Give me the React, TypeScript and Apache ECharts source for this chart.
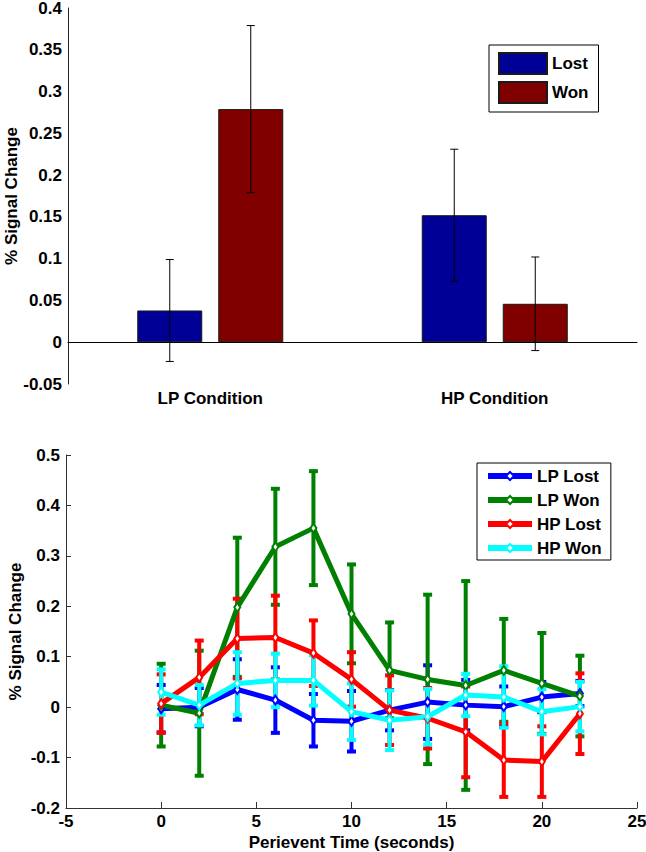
import React, { useEffect, useRef } from "react";
import * as echarts from "echarts";

// ---- Top chart data ----
const conditions = ["LP Condition", "HP Condition"];
const lostMeans = [0.038, 0.152];
const lostErrs = [0.061, 0.079];
const wonMeans = [0.279, 0.046];
const wonErrs = [0.1, 0.056];

// ---- Bottom chart data ----
const times = [0, 2, 4, 6, 8, 10, 12, 14, 16, 18, 20, 22];
const lpLost = [-0.003, 0.0, 0.035, 0.014, -0.026, -0.028, -0.006, 0.01, 0.004, 0.001, 0.02, 0.027];
const lpLostErr = [0.047, 0.038, 0.06, 0.065, 0.052, 0.06, 0.04, 0.073, 0.05, 0.04, 0.03, 0.025];
const lpWon = [0.004, -0.012, 0.198, 0.318, 0.355, 0.185, 0.073, 0.055, 0.043, 0.073, 0.047, 0.022];
const lpWonErr = [0.082, 0.124, 0.138, 0.115, 0.113, 0.098, 0.095, 0.168, 0.207, 0.102, 0.1, 0.08];
const hpLost = [0.007, 0.059, 0.136, 0.138, 0.107, 0.055, -0.006, -0.022, -0.049, -0.105, -0.108, -0.013];
const hpLostErr = [0.058, 0.073, 0.079, 0.083, 0.065, 0.054, 0.069, 0.06, 0.09, 0.073, 0.07, 0.08];
const hpWon = [0.03, 0.004, 0.047, 0.053, 0.053, -0.009, -0.026, -0.019, 0.024, 0.02, -0.009, 0.001];
const hpWonErr = [0.045, 0.04, 0.062, 0.053, 0.05, 0.056, 0.059, 0.055, 0.042, 0.061, 0.045, 0.049];

const FONT = "'Liberation Sans', Arial, sans-serif";
const BAR_W = 65;
const BAR_GAP = 16;

const lineSeriesDefs = [
  { name: "LP Lost", color: "#0000ff", vals: lpLost, errs: lpLostErr },
  { name: "LP Won", color: "#008000", vals: lpWon, errs: lpWonErr },
  { name: "HP Lost", color: "#ff0000", vals: hpLost, errs: hpLostErr },
  { name: "HP Won", color: "#00ffff", vals: hpWon, errs: hpWonErr },
];

function fmt(v: number) {
  return String(+Number(v).toFixed(3));
}

export default function App() {
  const ref = useRef<HTMLDivElement>(null);
  useEffect(() => {
    document.body.style.margin = "0";
    if (!ref.current) return;
    const chart = echarts.init(ref.current, undefined, { renderer: "svg" });

    const labelStyle = { color: "#000", fontFamily: FONT, fontWeight: "bold" as const, fontSize: 17 };

    const barErr = (offset: number, means: number[], errs: number[], name: string) => ({
      type: "custom",
      name,
      xAxisIndex: 0,
      yAxisIndex: 0,
      z: 5,
      silent: true,
      encode: { x: 0, y: 1 },
      data: means.map((m, i) => [i, m, errs[i]]),
      renderItem: (params: any, api: any) => {
        const x = api.value(0);
        const y = api.value(1);
        const e = api.value(2);
        const t = api.coord([x, y + e]);
        const b = api.coord([x, y - e]);
        const cx = t[0] + offset;
        const cw = 8;
        const st = { stroke: "#000", lineWidth: 1 };
        return {
          type: "group",
          children: [
            { type: "line", shape: { x1: cx, y1: t[1], x2: cx, y2: b[1] }, style: st },
            { type: "line", shape: { x1: cx - cw / 2, y1: t[1], x2: cx + cw / 2, y2: t[1] }, style: st },
            { type: "line", shape: { x1: cx - cw / 2, y1: b[1], x2: cx + cw / 2, y2: b[1] }, style: st },
          ],
        };
      },
    });

    const lineErr = (d: any) => ({
      type: "custom",
      name: d.name + " err",
      xAxisIndex: 1,
      yAxisIndex: 1,
      silent: true,
      encode: { x: 0, y: 1 },
      data: times.map((t, i) => [t, d.vals[i], d.errs[i]]),
      renderItem: (params: any, api: any) => {
        const x = api.value(0);
        const y = api.value(1);
        const e = api.value(2);
        const t = api.coord([x, y + e]);
        const b = api.coord([x, y - e]);
        const cw = 9;
        const ch = 4;
        return {
          type: "group",
          children: [
            { type: "line", shape: { x1: t[0], y1: t[1], x2: b[0], y2: b[1] }, style: { stroke: d.color, lineWidth: 4 } },
            { type: "rect", shape: { x: t[0] - cw / 2, y: t[1] - ch / 2, width: cw, height: ch }, style: { fill: d.color } },
            { type: "rect", shape: { x: b[0] - cw / 2, y: b[1] - ch / 2, width: cw, height: ch }, style: { fill: d.color } },
          ],
        };
      },
    });

    const series: any[] = [
      {
        type: "bar",
        name: "Lost",
        xAxisIndex: 0,
        yAxisIndex: 0,
        data: lostMeans,
        barWidth: BAR_W,
        barGap: (BAR_GAP / BAR_W) * 100 + "%",
        itemStyle: { color: "#000096", borderColor: "#1a1a1a", borderWidth: 1 },
        markLine: {
          silent: true,
          symbol: "none",
          label: { show: false },
          lineStyle: { color: "#000", width: 1, type: "solid" },
          data: [{ yAxis: 0 }],
        },
      },
      {
        type: "bar",
        name: "Won",
        xAxisIndex: 0,
        yAxisIndex: 0,
        data: wonMeans,
        barWidth: BAR_W,
        itemStyle: { color: "#800000", borderColor: "#1a1a1a", borderWidth: 1 },
      },
      barErr(-(BAR_W + BAR_GAP) / 2, lostMeans, lostErrs, "Lost err"),
      barErr((BAR_W + BAR_GAP) / 2, wonMeans, wonErrs, "Won err"),
    ];

    lineSeriesDefs.forEach((d) => {
      series.push(lineErr(d));
      series.push({
        type: "line",
        name: d.name,
        xAxisIndex: 1,
        yAxisIndex: 1,
        data: times.map((t, i) => [t, d.vals[i]]),
        symbol: "emptyDiamond",
        symbolSize: [6, 9],
        itemStyle: { color: d.color, borderWidth: 1 },
        lineStyle: { color: d.color, width: 5 },
      });
    });

    chart.setOption({
      animation: false,
      backgroundColor: "#fff",
      grid: [
        { left: 68, top: 8, width: 569, height: 376, outerBoundsMode: "none", containLabel: false },
        { left: 66, top: 455, width: 571, height: 353, outerBoundsMode: "none", containLabel: false },
      ],
      xAxis: [
        {
          type: "category",
          gridIndex: 0,
          data: conditions,
          axisLine: { lineStyle: { color: "#222", width: 1 } },
          axisTick: { show: false },
          axisLabel: { ...labelStyle, margin: 6 },
        },
        {
          type: "value",
          gridIndex: 1,
          min: -5,
          max: 25,
          interval: 5,
          name: "Perievent Time (seconds)",
          nameLocation: "middle",
          nameGap: 26,
          nameMoveOverlap: false,
          nameTextStyle: labelStyle,
          axisLine: { onZero: false, lineStyle: { color: "#333", width: 1 } },
          axisTick: { show: true, inside: true, length: 6, lineStyle: { color: "#333" } },
          axisLabel: { ...labelStyle, margin: 5 },
          splitLine: { show: false },
        },
      ],
      yAxis: [
        {
          type: "value",
          gridIndex: 0,
          min: -0.05,
          max: 0.4,
          interval: 0.05,
          name: "% Signal Change",
          nameLocation: "middle",
          nameGap: 48,
          nameMoveOverlap: false,
          nameTextStyle: labelStyle,
          axisLine: { show: true, lineStyle: { color: "#222", width: 1 } },
          axisTick: { show: false },
          axisLabel: { ...labelStyle, margin: 6, formatter: fmt },
          splitLine: { show: false },
        },
        {
          type: "value",
          gridIndex: 1,
          min: -0.2,
          max: 0.5,
          interval: 0.1,
          name: "% Signal Change",
          nameLocation: "middle",
          nameGap: 42,
          nameMoveOverlap: false,
          nameTextStyle: labelStyle,
          axisLine: { show: true, onZero: false, lineStyle: { color: "#333", width: 1 } },
          axisTick: { show: true, inside: true, length: 5, lineStyle: { color: "#333" } },
          axisLabel: { ...labelStyle, margin: 6, formatter: fmt },
          splitLine: { show: false },
        },
      ],
      legend: [
        {
          data: ["Lost", "Won"],
          orient: "vertical",
          left: 489,
          top: 45,
          padding: [7, 10, 8, 9],
          itemWidth: 48,
          itemHeight: 21,
          itemGap: 6,
          icon: "rect",
          borderColor: "#000",
          borderWidth: 1,
          backgroundColor: "#fff",
          textStyle: labelStyle,
          selectedMode: false,
        },
        {
          data: ["LP Lost", "LP Won", "HP Lost", "HP Won"],
          orient: "vertical",
          left: 477,
          top: 463,
          padding: [3, 9, 2, 8],
          itemWidth: 44,
          itemHeight: 10,
          itemGap: 4,
          lineStyle: { width: 6 },
          borderColor: "#000",
          borderWidth: 1,
          backgroundColor: "#fff",
          textStyle: { ...labelStyle, lineHeight: 20 },
          selectedMode: false,
        },
      ],
      series,
    });
    return () => chart.dispose();
  }, []);
  return <div ref={ref} style={{ width: 646, height: 852 }} />;
}
